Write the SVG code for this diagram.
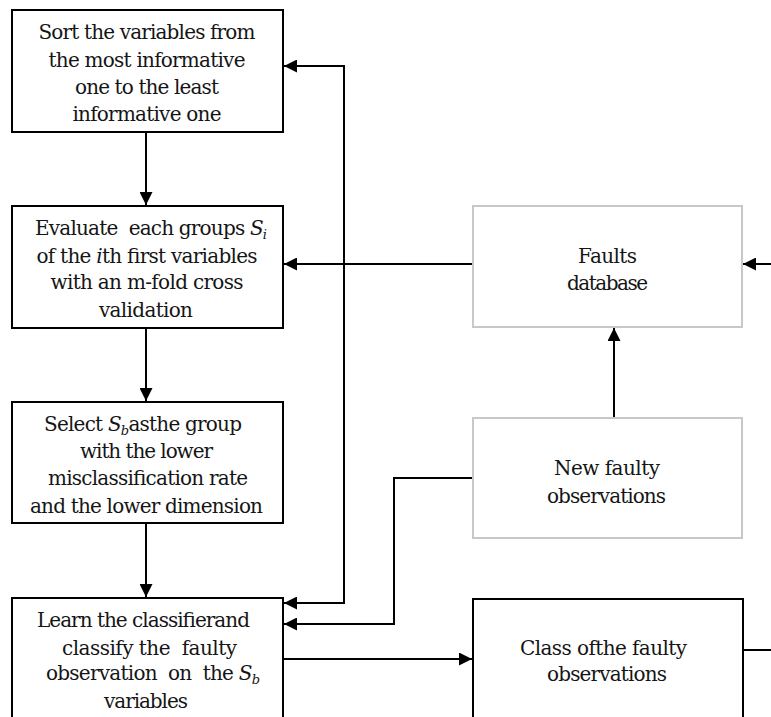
<svg xmlns="http://www.w3.org/2000/svg" width="771" height="717" viewBox="0 0 771 717">
  <style>
    .box { fill: #ffffff; stroke: #000000; stroke-width: 2; }
    .soft { fill: #ffffff; stroke: #c8c8c8; stroke-width: 2; }
    text { font-family: "DejaVu Serif", "Liberation Serif", serif; font-size: 20px; fill: #151515; text-anchor: middle; white-space: pre; }
    .it { font-style: italic; }
    .sub { font-style: italic; font-size: 13px; }
    .wire { fill: none; stroke: #000000; stroke-width: 2; }
  </style>
  <defs>
    <marker id="head" viewBox="0 0 13 13" refX="13" refY="6.5" markerWidth="13" markerHeight="13" markerUnits="userSpaceOnUse" orient="auto-start-reverse">
      <path d="M0,0 L13,6.5 L0,13 z" fill="#000000"/>
    </marker>
  </defs>
  <rect x="0" y="0" width="771" height="717" fill="#ffffff"/>

  <g id="connectors">
    <path class="wire" d="M146,132 V205" marker-end="url(#head)"/>
    <path class="wire" d="M146,328 V401" marker-end="url(#head)"/>
    <path class="wire" d="M146,523 V597" marker-end="url(#head)"/>
    <path class="wire" d="M473,264 H284" marker-end="url(#head)"/>
    <path class="wire" d="M284,66 H344 V603 H284" marker-start="url(#head)" marker-end="url(#head)"/>
    <path class="wire" d="M473,478 H394 V624 H284" marker-end="url(#head)"/>
    <path class="wire" d="M614,418 V328" marker-end="url(#head)"/>
    <path class="wire" d="M283,659 H472" marker-end="url(#head)"/>
    <path class="wire" d="M771,264 H743" marker-end="url(#head)"/>
    <path class="wire" d="M743,650 H771"/>
  </g>

  <g id="sort">
    <rect class="box" x="12" y="10" width="271" height="122"/>
    <text x="147" y="39" textLength="217">Sort the variables from</text>
    <text x="147" y="66.5" textLength="197">the most informative</text>
    <text x="147" y="94" textLength="144">one to the least</text>
    <text x="147" y="121" textLength="149">informative one</text>
  </g>

  <g id="evaluate">
    <rect class="box" x="12" y="206" width="271" height="122"/>
    <text x="151" y="235" textLength="232">Evaluate  each groups <tspan class="it">S</tspan><tspan class="sub" dy="4">i</tspan></text>
    <text x="147" y="262.5" textLength="221">of the <tspan class="it">i</tspan>th first variables</text>
    <text x="147" y="289" textLength="193">with an m-fold cross</text>
    <text x="146" y="316.5" textLength="94">validation</text>
  </g>

  <g id="select">
    <rect class="box" x="12" y="402" width="271" height="121"/>
    <text x="143" y="431" textLength="198">Select <tspan class="it">S</tspan><tspan class="sub" dy="4">b</tspan><tspan dy="-4">asthe group</tspan></text>
    <text x="146.5" y="458" textLength="133">with the lower</text>
    <text x="148" y="485" textLength="200">misclassification rate</text>
    <text x="146.5" y="512.5" textLength="233">and the lower dimension</text>
  </g>

  <g id="learn">
    <rect class="box" x="12" y="598" width="271" height="140"/>
    <text x="143.5" y="627" textLength="213">Learn the classifierand</text>
    <text x="149.5" y="654.5" textLength="175">classify the  faulty</text>
    <text x="153" y="680" textLength="214">observation  on  the <tspan class="it">S</tspan><tspan class="sub" dy="4">b</tspan></text>
    <text x="146" y="708" textLength="84">variables</text>
  </g>

  <g id="faults-database">
    <rect class="soft" x="473" y="206" width="269" height="121"/>
    <text x="607.5" y="262.5" textLength="59">Faults</text>
    <text x="607.5" y="290" textLength="81">database</text>
  </g>

  <g id="new-faulty">
    <rect class="soft" x="473" y="418" width="269" height="120"/>
    <text x="607" y="475" textLength="106">New faulty</text>
    <text x="606.5" y="502.5" textLength="119">observations</text>
  </g>

  <g id="class-result">
    <rect class="box" x="473" y="599" width="270" height="140"/>
    <text x="603.5" y="655" textLength="167">Class ofthe faulty</text>
    <text x="607" y="680.5" textLength="120">observations</text>
  </g>
</svg>
